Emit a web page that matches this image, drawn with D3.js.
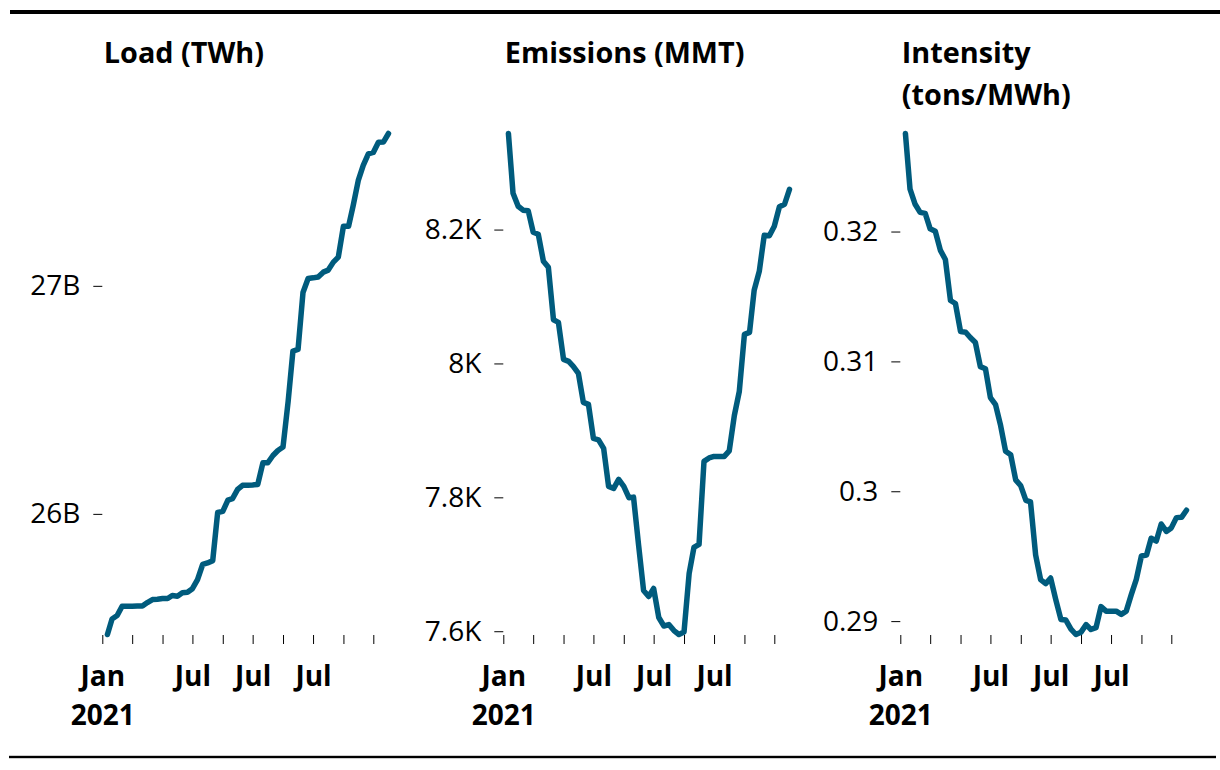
<!DOCTYPE html>
<html><head><meta charset="utf-8">
<script src="https://cdn.jsdelivr.net/npm/d3@7"></script>
<style>body{margin:0;background:#fff}</style>
</head><body><svg id="c" width="1220" height="770"></svg>
<script>
// ---- data (monthly, Feb 2021 .. Oct 2025) ----
const loadTWh = [25.471,25.539,25.554,25.595,25.595,25.595,25.596,25.596,25.611,25.624,
  25.626,25.629,25.629,25.642,25.639,25.654,25.656,25.672,25.712,25.778,
  25.785,25.795,26.006,26.011,26.060,26.067,26.107,26.125,26.126,26.127,
  26.129,26.224,26.224,26.256,26.278,26.293,26.493,26.714,26.721,26.971,
  27.032,27.035,27.039,27.060,27.069,27.104,27.126,27.261,27.261,27.352,
  27.462,27.528,27.579,27.585,27.630,27.631,27.668];
const emissionsMMT = [8.3435,8.2543,8.2348,8.2289,8.2281,8.1960,8.1930,8.1526,8.1436,8.0652,
  8.0614,8.0061,8.0031,7.9957,7.9852,7.9419,7.9389,7.8880,7.8858,7.8731,
  7.8163,7.8133,7.8268,7.8163,7.7994,7.8003,7.7281,7.6608,7.6519,7.6638,
  7.6205,7.6078,7.6100,7.6010,7.5951,7.5988,7.6862,7.7251,7.7296,7.8537,
  7.8589,7.8611,7.8611,7.8611,7.8694,7.9224,7.9583,8.0435,8.0465,8.1093,
  8.1377,8.1915,8.1907,8.2049,8.2341,8.2378,8.2602];
const intensity = [0.32755,0.32326,0.32210,0.32148,0.32140,0.32021,0.32002,0.31855,0.31785,0.31469,
  0.31446,0.31230,0.31225,0.31184,0.31145,0.30960,0.30944,0.30721,0.30667,0.30505,
  0.30308,0.30281,0.30088,0.30042,0.29930,0.29918,0.29509,0.29320,0.29289,0.29332,
  0.29166,0.29013,0.29008,0.28938,0.28897,0.28915,0.28973,0.28936,0.28950,0.29112,
  0.29077,0.29077,0.29077,0.29052,0.29077,0.29206,0.29322,0.29502,0.29509,0.29638,
  0.29617,0.29748,0.29691,0.29718,0.29797,0.29799,0.29854];
const months = d3.timeMonth.range(new Date(2021,1,1), new Date(2025,9,2));
const xTickDates = d3.timeMonth.every(6).range(new Date(2021,0,1), new Date(2025,7,1));
const xTickLabels = [["Jan","2021"],[],[],["Jul"],[],["Jul"],[],["Jul"],[],[]];
const titles = [["Load (TWh)"],["Emissions (MMT)"],["Intensity","(tons/MWh)"]];
const yTickValues = [[26,27],[7.6,7.8,8.0,8.2],[0.29,0.30,0.31,0.32]];
const yTickLabels = [["26B","27B"],["7.6K","7.8K","8K","8.2K"],["0.29","0.3","0.31","0.32"]];
const series = [loadTWh, emissionsMMT, intensity];

// ---- layout ----
const W = 1220, H = 770;
const panelX0 = [102.3, 503.3, 900.3];
const tickSpan = 271;
const yTop = 133.5, yBottom = 634.5, axisY = 635;
const color = "#005b7d";
const FONT = "'Open Sans', sans-serif";
const FS = 28;

const svg = d3.select("#c");
svg.append("rect").attr("x",10).attr("y",10).attr("width",W-10).attr("height",4).attr("fill","#000");
svg.append("rect").attr("x",9).attr("y",755.8).attr("width",1207).attr("height",2.4).attr("fill","#000");

series.forEach((vals, p) => {
  const x0 = panelX0[p];
  const x = d3.scaleTime().domain([new Date(2021,0,1), new Date(2025,6,1)]).range([x0, x0 + tickSpan]);
  const y = d3.scaleLinear().domain(d3.extent(vals)).range([yBottom, yTop]);
  const g = svg.append("g");

  // title
  const t = g.append("text").attr("x", x0 + 1.5).attr("y", 63)
    .attr("font-family", FONT).attr("font-weight", 700).attr("font-size", 28.8).attr("fill", "#000");
  titles[p].forEach((line, k) => t.append("tspan").attr("x", x0 + 1.5).attr("dy", k ? 42 : 0).text(line));

  // x axis
  const xa = g.append("g").attr("transform", `translate(0,${axisY})`)
    .call(d3.axisBottom(x).tickValues(xTickDates).tickSize(9).tickPadding(22).tickFormat(() => ""));
  xa.select(".domain").remove();
  xa.selectAll(".tick line").attr("stroke", "#000");
  xa.selectAll(".tick text").attr("font-family", FONT).attr("font-weight", 700).attr("font-size", FS).attr("fill", "#000")
    .each(function(d, i) {
      const el = d3.select(this);
      xTickLabels[i].forEach((line, k) => el.append("tspan").attr("x", 0).attr("dy", k ? "1.41em" : null).text(line));
    });

  // y axis
  const ya = g.append("g").attr("transform", `translate(${x0},0)`)
    .call(d3.axisLeft(y).tickValues(yTickValues[p]).tickSize(9).tickPadding(13)
      .tickFormat((d, i) => yTickLabels[p][i]));
  ya.select(".domain").remove();
  ya.selectAll(".tick line").attr("stroke", "#000");
  ya.selectAll(".tick text").attr("font-family", FONT).attr("font-size", FS).attr("fill", "#000");

  // line
  g.append("path").datum(vals)
    .attr("fill", "none").attr("stroke", color).attr("stroke-width", 5.5)
    .attr("stroke-linejoin", "round").attr("stroke-linecap", "round")
    .attr("d", d3.line().x((d, i) => x(months[i])).y(d => y(d)));
});
</script></body></html>
